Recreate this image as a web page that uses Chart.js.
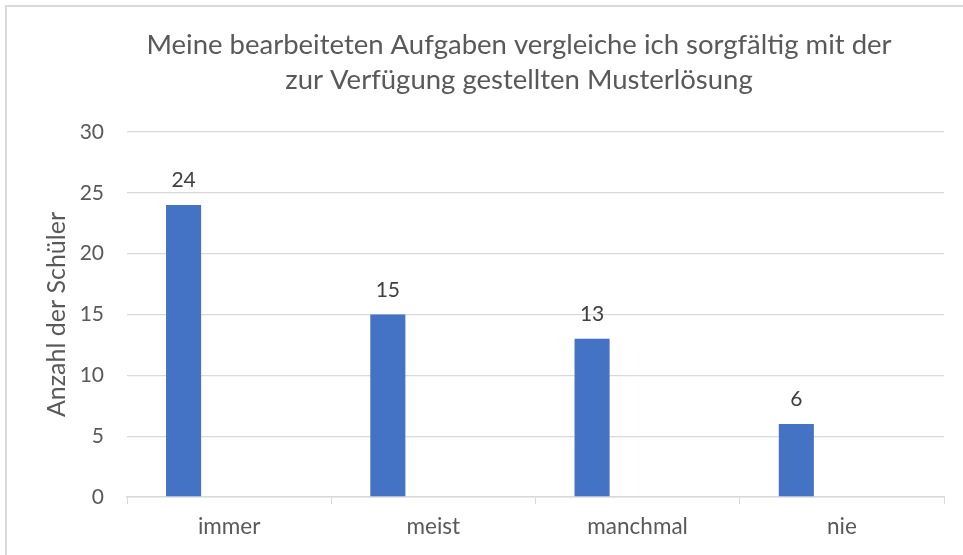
<!DOCTYPE html>
<html>
<head>
<meta charset="utf-8">
<script src="https://cdn.jsdelivr.net/npm/chart.js"></script>
<style>
  html, body { margin: 0; padding: 0; background: #fff; }
  #wrap { position: relative; width: 963px; height: 555px; }
  #rahmen { position: absolute; left: 5px; top: 5px; right: 0; bottom: 0;
            border-top: 2px solid #d9d9d9; border-left: 2px solid #d9d9d9; pointer-events: none; }
</style>
</head>
<body>
<div id="wrap">
  <canvas id="myChart" width="963" height="555"></canvas>
  <div id="rahmen"></div>
</div>
<script>
const kategorien = ['immer', 'meist', 'manchmal', 'nie'];
const anzahlSchueler = [24, 15, 13, 6];
const leereReihe = [null, null, null, null];
const titelZeilen = ['Meine bearbeiteten Aufgaben vergleiche ich sorgfältig mit der', 'zur Verfügung gestellten Musterlösung'];
const achsenTitel = 'Anzahl der Schüler';
const yMin = 0, yMax = 30, ySchritt = 5;

const grau = '#595959';
const linien = '#d9d9d9';

// Zahlen über den Balken
const werteBeschriftung = {
  id: 'werteBeschriftung',
  afterDatasetsDraw(chart) {
    const ctx = chart.ctx;
    const meta = chart.getDatasetMeta(0);
    ctx.save();
    ctx.font = '21px Lato';
    ctx.fillStyle = '#404040';
    ctx.textAlign = 'center';
    ctx.textBaseline = 'alphabetic';
    meta.data.forEach((bar, i) => {
      ctx.fillText(anzahlSchueler[i], bar.x, bar.y - 18);
    });
    ctx.restore();
  }
};

// Titel wie in Excel etwas nach rechts versetzt
const titelVersatz = {
  id: 'titelVersatz',
  afterLayout(chart) {
    chart.titleBlock.left = 94;
    chart.titleBlock.right = 944;
  }
};

const ctx = document.getElementById('myChart');

new Chart(ctx, {
  type: 'bar',
  data: {
    labels: kategorien,
    datasets: [{
      label: 'Anzahl',
      data: anzahlSchueler,
      backgroundColor: '#4472c4',
      borderWidth: 0,
      categoryPercentage: 0.892,
      barPercentage: 0.385
    }, {
      label: '',
      data: leereReihe,
      backgroundColor: '#ed7d31',
      borderWidth: 0,
      categoryPercentage: 0.892,
      barPercentage: 0.385
    }]
  },
  options: {
    responsive: false,
    animation: false,
    layout: { padding: { left: 0, right: 19, top: 0, bottom: 0 } },
    plugins: {
      legend: { display: false },
      tooltip: { enabled: false },
      title: {
        display: true,
        text: titelZeilen,
        color: grau,
        font: { family: 'Lato', size: 27.5, weight: 'normal', lineHeight: 35 / 27.5 },
        padding: { top: 28, bottom: 34 }
      }
    },
    scales: {
      x: {
        afterFit(scale) { scale.height = 58; },
        grid: { offset: true, drawOnChartArea: false, drawTicks: true, tickLength: 7, color: linien },
        border: { color: linien, width: 1.5 },
        ticks: { color: grau, font: { family: 'Lato', size: 22.5 }, padding: 9 }
      },
      y: {
        min: yMin,
        max: yMax,
        afterFit(scale) { scale.width = 127; },
        grid: { color: linien, lineWidth: 1.3, drawTicks: false },
        border: { display: false },
        ticks: { stepSize: ySchritt, color: grau, font: { family: 'Lato', size: 21 }, padding: 23 },
        title: {
          display: true,
          text: achsenTitel,
          color: grau,
          font: { family: 'Lato', size: 25 },
          padding: { top: 42, bottom: 0 }
        }
      }
    }
  },
  plugins: [werteBeschriftung, titelVersatz]
});
</script>
</body>
</html>
